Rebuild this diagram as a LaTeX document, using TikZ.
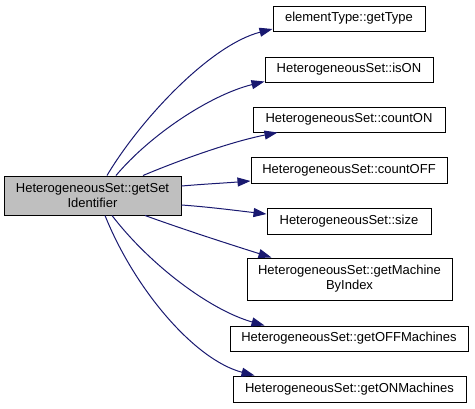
\documentclass[tikz,border=0pt]{standalone}
\usepackage{fontspec}
\setmainfont{Liberation Sans}
\usetikzlibrary{arrows.meta,calc}
\definecolor{edgeblue}{HTML}{191970}
\definecolor{mainfill}{HTML}{BFBFBF}
\begin{document}
\begin{tikzpicture}[x=1pt,y=-1pt,
  box/.style={draw=black, line width=1pt, fill=white, inner sep=0pt, align=center,
              font=\fontsize{13}{15}\selectfont},
  call/.style={draw=edgeblue, line width=1pt, -{Triangle[length=13pt,width=9pt]}}]
\useasboundingbox (0,0) rectangle (475,408);

\node[box, fill=mainfill, minimum width=177pt, minimum height=39pt] (main) at (92.5,195.5) {HeterogeneousSet::getSet\\Identifier};

\node[box, minimum width=152pt, minimum height=25pt] (gettype) at (349,18.5) {elementType::getType};
\node[box, minimum width=168pt, minimum height=25pt] (ison) at (349,69.5) {HeterogeneousSet::isON};
\node[box, minimum width=192pt, minimum height=25pt] (counton) at (349,119.5) {HeterogeneousSet::countON};
\node[box, minimum width=196pt, minimum height=26pt] (countoff) at (349,170) {HeterogeneousSet::countOFF};
\node[box, minimum width=164pt, minimum height=26pt] (size) at (349,221) {HeterogeneousSet::size};
\node[box, minimum width=205pt, minimum height=42pt] (getmachine) at (349.5,279) {HeterogeneousSet::getMachine\\ByIndex};
\node[box, minimum width=238pt, minimum height=25pt] (getoff) at (349,338.5) {HeterogeneousSet::getOFFMachines};
\node[box, minimum width=233pt, minimum height=26pt] (geton) at (349.5,389) {HeterogeneousSet::getONMachines};

\draw[call] ($(main.north)+(14.5,0)$) .. controls (140,120) and (210,45) .. ($(gettype.west)+(0,10.5)$);
\draw[call] ($(main.north)+(23.5,0)$) .. controls (150,135) and (210,95) .. ($(ison.south west)+(0,-1)$);
\draw[call] ($(main.north)+(50.5,0)$) .. controls (180,160) and (230,142) .. ($(counton.south west)+(25,0)$);
\draw[call] ($(main.east)+(0,-9.5)$) .. controls (205,184) and (225,183) .. ($(countoff.west)+(0,11)$);
\draw[call] ($(main.east)+(0,9.5)$) .. controls (210,207) and (240,211) .. ($(size.west)+(0,-7)$);
\draw[call] ($(main.south)+(52.5,0)$) .. controls (185,230) and (235,246) .. ($(getmachine.north west)+(25,0)$);
\draw[call] ($(main.south)+(19.5,0)$) .. controls (150,265) and (210,310) .. ($(getoff.north west)+(35,0)$);
\draw[call] ($(main.south)+(12.5,0)$) .. controls (135,290) and (195,360) .. ($(geton.north west)+(22,0)$);
\end{tikzpicture}
\end{document}
